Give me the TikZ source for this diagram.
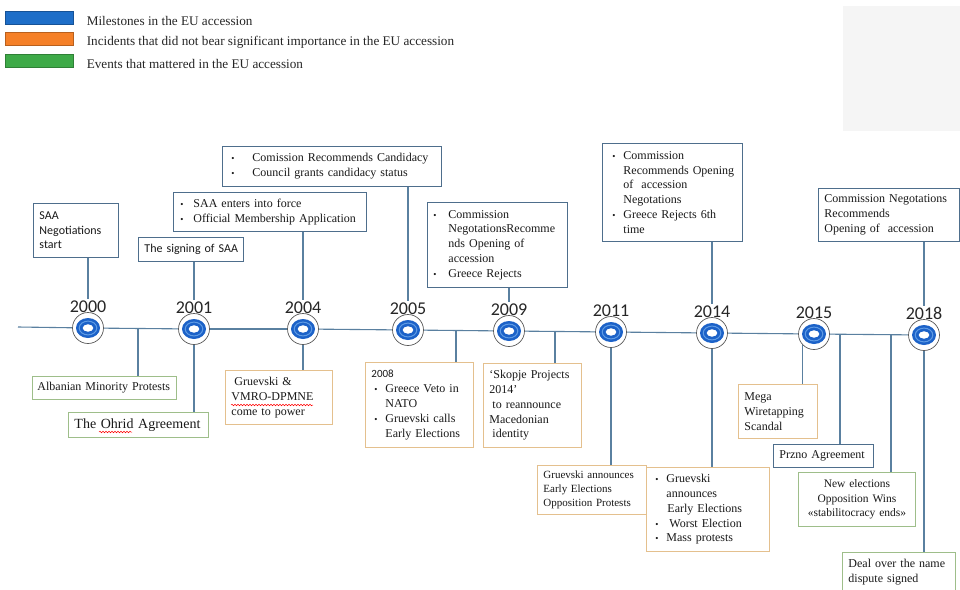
\documentclass[tikz,border=0pt]{standalone}
\usepackage{fontspec}
\setmainfont{Liberation Serif}
\newfontfamily\calibri{Carlito}
\usetikzlibrary{positioning,decorations.pathmorphing}
\definecolor{mileline}{RGB}{78,110,140}
\definecolor{incline}{RGB}{228,192,142}
\definecolor{evline}{RGB}{158,190,138}
\definecolor{connline}{RGB}{90,128,160}
\definecolor{ringblue}{RGB}{28,98,200}
\definecolor{ringlight}{RGB}{95,155,228}
\definecolor{legblue}{RGB}{30,110,200}
\definecolor{legorange}{RGB}{245,128,40}
\definecolor{leggreen}{RGB}{62,170,72}
\newcommand{\bp}[1]{\makebox[#1][l]{\small\textbullet}}
\newcommand{\ind}[1]{\hspace*{#1}}
\tikzset{
    tbox/.style={draw, line width=0.9pt, anchor=north west, align=left, inner xsep=6pt, inner ysep=2pt, text=black!90, font=\fontsize{12}{14.8}\selectfont, execute at begin node={\hyphenpenalty=10000}},
    mile/.style={tbox, draw=mileline},
    incident/.style={tbox, draw=incline},
    event/.style={tbox, draw=evline},
    sans/.style={font=\calibri\fontsize{12}{14.5}\selectfont},
    conn/.style={draw=connline, line width=1.1pt},
    tline/.style={draw=connline, line width=1.1pt},
    yearmark/.style={circle, draw=black!65, line width=0.7pt, fill=white, minimum size=31pt, inner sep=0,
        path picture={
            \fill[ringblue, even odd rule] (path picture bounding box.center) ellipse [x radius=12pt, y radius=10pt]
                (path picture bounding box.center) ellipse [x radius=5.5pt, y radius=3.8pt];
            \draw[ringlight, line width=1pt] (path picture bounding box.center) ellipse [x radius=8.8pt, y radius=6.9pt];
        }},
    yearlabel/.style={anchor=base, inner sep=1pt, font=\calibri\fontsize{18}{18}\selectfont, text=black!85},
    legkey/.style={draw=#1!75!black, fill=#1, line width=0.6pt, anchor=north west, minimum width=68pt, minimum height=13pt, inner sep=0},
    legtext/.style={anchor=west, inner sep=0, yshift=-3pt, font=\fontsize{13.2}{15}\selectfont, text=black!85},
    spellwave/.style={draw=red, line width=0.5pt, decorate, decoration={snake, amplitude=0.8pt, segment length=3pt}}
}
\begin{document}
\begin{tikzpicture}[x=1pt, y=-1pt]
    \clip (0,0) rectangle (960,589);
    \fill[white] (0,0) rectangle (960,589);
    \fill[black!4] (843,6) rectangle (960,131);

    \node[legkey=legblue] (kmile) at (5,11) {};
    \node[legkey=legorange] (kinc) at (5,32) {};
    \node[legkey=leggreen] (kev) at (5,54) {};
    \node[legtext, right=13pt of kmile] (tmile) {Milestones in the EU accession};
    \node[legtext, right=13pt of kinc] (tinc) {Incidents that did not bear significant importance in the EU accession};
    \node[legtext, right=13pt of kev] (tev) {Events that mattered in the EU accession};

    \foreach \yr/\x/\y in {2000/88/328, 2001/194/329, 2004/303/329, 2005/408/330, 2009/509/331, 2011/611/332, 2014/712/333, 2015/814/334, 2018/924/335} {
        \node[yearmark] (c\yr) at (\x,\y) {};
        \node[yearlabel] (l\yr) at ([yshift=16pt]c\yr.center) {\yr};
    }
    \coordinate (tstart) at (18,327);
    \draw[tline] (tstart) -- (c2000);
    \foreach \a/\b in {2000/2001, 2001/2004, 2004/2005, 2005/2009, 2009/2011, 2011/2014, 2014/2015, 2015/2018}
        \draw[tline] (c\a) -- (c\b);

    \node[mile, sans, text width=73pt, minimum height=54pt] (saaneg) at (33,203) {SAA\\Negotiations\\start};
    \node[mile, sans, inner xsep=4pt, text width=97pt, minimum height=24pt] (saasign) at (138,237) {\ind{2pt}The signing of SAA};
    \node[mile, text width=181pt, minimum height=39pt] (saaforce) at (173,192)
        {\ind{1pt}\bp{13pt}SAA enters into force\\\ind{1pt}\bp{13pt}Official Membership Application};
    \node[mile, text width=207pt, minimum height=40pt] (candidacy) at (222,146)
        {\ind{3pt}\bp{21pt}Comission Recommends Candidacy\\\ind{3pt}\bp{21pt}Council grants candidacy status};
    \node[mile, text width=128pt, minimum height=85pt] (negrej) at (427,202)
        {\bp{15pt}Commission\\\ind{15pt}NegotationsRecomme\\\ind{15pt}nds Opening of\\\ind{15pt}accession\\\bp{15pt}Greece Rejects};
    \node[mile, text width=128pt, minimum height=98pt] (negrej6) at (602,143)
        {\ind{4pt}\bp{11pt}Commission\\\ind{15pt}Recommends Opening\\\ind{15pt}of\ \ accession\\\ind{15pt}Negotations\\\ind{4pt}\bp{11pt}Greece Rejects 6th\\\ind{15pt}time};
    \node[mile, text width=129pt, minimum height=53pt] (open2018) at (818,188)
        {Commission Negotations\\Recommends\\Opening of\ \ accession};

    \node[event, inner xsep=5pt, text width=134pt, minimum height=23pt] (albanian) at (32,376) {Albanian Minority Protests};
    \node[event, font=\fontsize{14}{16}\selectfont, text width=128pt, minimum height=25pt] (ohrid) at (68,412) {The Ohrid Agreement};
    \node[incident, text width=95pt, minimum height=54pt] (gruevski) at (225,370)
        {\ind{3pt}Gruevski \&\\VMRO-DPMNE\\come to power};
    \node[incident, text width=96pt, minimum height=85pt] (veto) at (365,362)
        {{\calibri\fontsize{11}{14.8}\selectfont 2008}\\\ind{3pt}\bp{11pt}Greece Veto in\\\ind{14pt}NATO\\\ind{3pt}\bp{11pt}Gruevski calls\\\ind{14pt}Early Elections};
    \node[incident, text width=86pt, minimum height=84pt] (skopje) at (483,363)
        {`Skopje Projects\\2014'\\\ind{3pt}to reannounce\\Macedonian\\\ind{3pt}identity};
    \node[incident, font=\fontsize{11}{14}\selectfont, text width=97pt, minimum height=49pt] (early2011) at (537,465)
        {Gruevski announces\\Early Elections\\Opposition Protests};
    \node[incident, text width=111pt, minimum height=84pt] (early2014) at (646,467)
        {\ind{3pt}\bp{11pt}Gruevski\\\ind{14pt}announces\\\ind{15pt}Early Elections\\\ind{3pt}\bp{14pt}Worst Election\\\ind{3pt}\bp{11pt}Mass protests};
    \node[incident, text width=67pt, minimum height=54pt] (wiretap) at (738,384) {Mega\\Wiretapping\\Scandal};
    \node[mile, text width=88pt, minimum height=23pt] (przno) at (773,444) {Przno Agreement};
    \node[event, align=center, font=\fontsize{11.5}{14.5}\selectfont, text width=105pt, minimum height=54pt] (newelect) at (798,472)
        {New elections\\Opposition Wins\\«stabilitocracy ends»};
    \node[event, text width=101pt, minimum height=40pt] (namedeal) at (842,552) {Deal over the name\\dispute signed};

    \draw[conn] (c2000 |- saaneg.south) -- (l2000.north);
    \draw[conn] (c2001 |- saasign.south) -- (l2001.north);
    \draw[conn] (c2004 |- saaforce.south) -- (l2004.north);
    \draw[conn] (c2005 |- candidacy.south) -- (l2005.north);
    \draw[conn] (c2009 |- negrej.south) -- (l2009.north);
    \draw[conn] (c2014 |- negrej6.south) -- (l2014.north);
    \draw[conn] (c2018 |- open2018.south) -- (l2018.north);

    \coordinate (talb) at (138,329);
    \coordinate (tveto) at (456,331);
    \coordinate (tskop) at (555,331);
    \coordinate (tprz) at (840,335);
    \coordinate (tnew) at (891,335);
    \draw[conn] (talb) -- (talb |- albanian.north);
    \draw[conn] (c2001.south) -- (c2001 |- ohrid.north);
    \draw[conn] (c2004.south) -- (c2004 |- gruevski.north);
    \draw[conn] (tveto) -- (tveto |- veto.north);
    \draw[conn] (tskop) -- (tskop |- skopje.north);
    \draw[conn] (c2011.south) -- (c2011 |- early2011.north);
    \draw[conn] (c2014.south) -- (c2014 |- early2014.north);
    \draw[conn] (c2015.south west) -- (c2015.south west |- wiretap.north);
    \draw[conn] (tprz) -- (tprz |- przno.north);
    \draw[conn] (tnew) -- (tnew |- newelect.north);
    \draw[conn] (c2018.south) -- (c2018 |- namedeal.north);

    \draw[spellwave] (99,432) -- (132,432);
    \draw[spellwave] (231,405) -- (313,405);
\end{tikzpicture}
\end{document}
